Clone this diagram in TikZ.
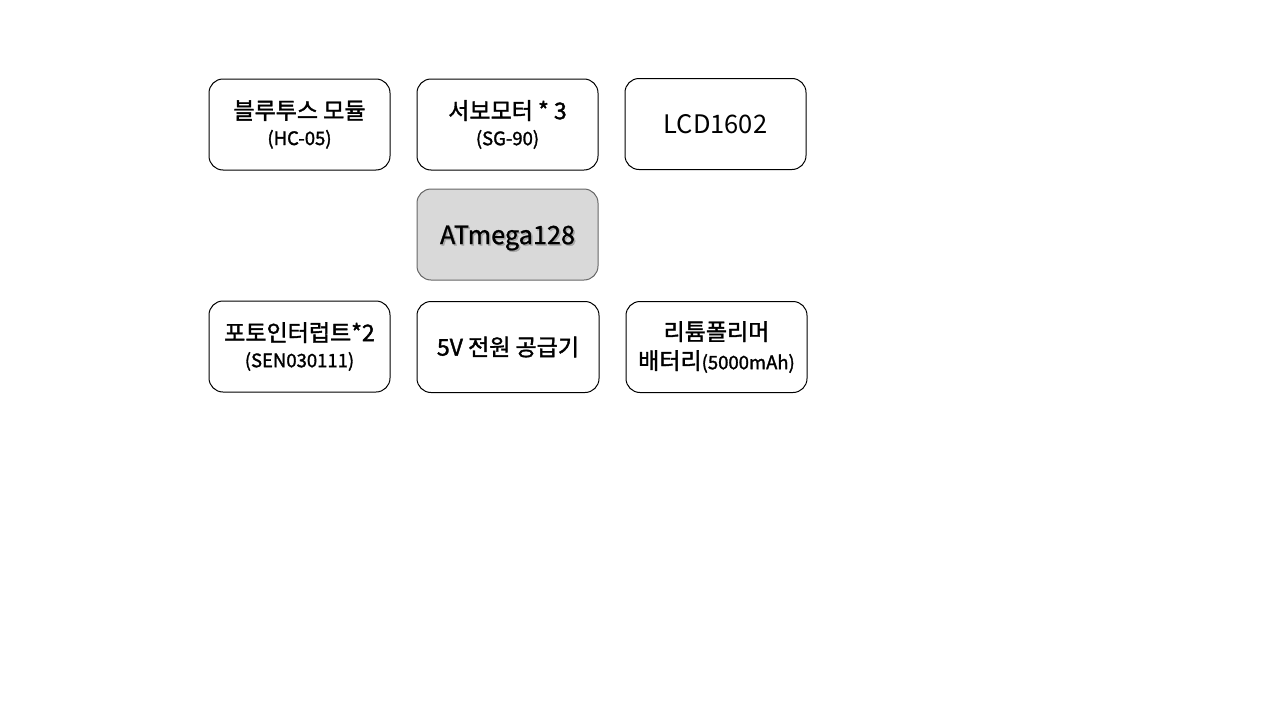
\documentclass[tikz,border=0pt]{standalone}
\usepackage{fontspec}
\setmainfont{Noto Sans CJK KR}
\newfontfamily\krmid{Noto Sans CJK KR}[FakeBold=1.6]
\newfontfamily\krlight{Noto Sans CJK KR}[FakeBold=0.9]
\tikzset{
    part/.style = {draw, line width = 1pt, rounded corners = 14pt, minimum width = 181pt, minimum height = 91pt, align = center, font = \fontsize{23}{26}\krmid},
    mcu/.style = {part, draw = gray!80!black, fill = gray!30}
}
\newcommand{\subtxt}[1]{{\fontsize{18.5}{26}\selectfont #1}}

\begin{document}
\begin{tikzpicture}[x = 1pt, y = -1pt]
    \useasboundingbox (0, 0) rectangle (1280, 720);
    \node (bt) at (299.5, 124.5) [part] {블루투스 모듈\\\subtxt{(HC-05)}};
    \node (servo) at (507.5, 124.5) [part] {서보모터 * 3\\\subtxt{(SG-90)}};
    \node (lcd) at (715.5, 124) [part, font = \fontsize{25.5}{29}\selectfont] {LCD1602};
    \node (mcu) at (507.5, 234.5) [mcu] {};
    \node (mcushadow) at (509, 239.5) [text = gray!70] {\fontsize{25.3}{29}\krlight ATmega128};
    \node (mcutext) at (507.5, 238) {\fontsize{25.3}{29}\krlight ATmega128};
    \node (photo) at (299.5, 346.5) [part] {포토인터럽트*2\\\subtxt{(SEN030111)}};
    \node (power) at (508, 347) [part, minimum width = 182pt] {5V 전원 공급기};
    \node (battery) at (716.5, 347) [part, font = \fontsize{23}{29}\krmid] {리튬폴리머\\배터리\subtxt{(5000mAh)}};
\end{tikzpicture}
\end{document}
